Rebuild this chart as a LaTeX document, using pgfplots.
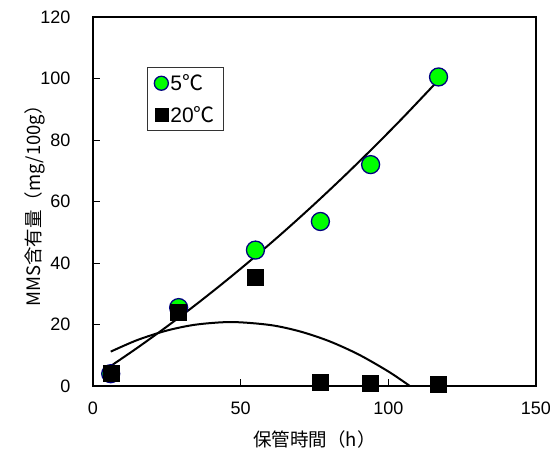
\documentclass[border=0pt]{standalone}
\usepackage{pgfplots}
\pgfplotsset{compat=1.18}
\usepackage{fontspec}
\setmainfont{Liberation Sans}
\newfontfamily\jp{Noto Sans CJK JP}
\definecolor{mgreen}{RGB}{0,255,0}
\definecolor{mnavy}{RGB}{0,0,128}
\begin{document}
\begin{tikzpicture}[x=1pt,y=1pt]
\path[use as bounding box] (0,0) rectangle (550,458);
\begin{axis}[
  at={(93pt,72pt)}, anchor=south west,
  scale only axis, width=443pt, height=369pt,
  xmin=0,xmax=150,ymin=0,ymax=120,
  xtick={0,50,100,150}, ytick={0,20,...,120},
  tick align=inside, xtick pos=bottom, ytick pos=left,
  major tick length=7pt,
  axis line style={line width=2pt},
  tick style={line width=0.8pt, black},
  tick label style={font=\fontsize{18}{20}\selectfont},
  /pgf/number format/assume math mode=true,
  xticklabel style={yshift=-12pt},
  yticklabel style={xshift=-19pt},
  xlabel={\jp 保管時間（h）}, ylabel={\jp MMS含有量（mg/100g）},
  label style={font=\fontsize{18.5}{20}\selectfont},
  x label style={at={(axis description cs:0.5,-0.146)}, anchor=center},
  y label style={at={(axis description cs:-0.131,0.5)}, anchor=center},
  clip=false,
  legend style={at={(0.122,0.864)}, anchor=north west, draw=black!80, line width=0.6pt,
    font=\fontsize{21}{22}\selectfont, row sep=10pt, inner xsep=7pt, inner ysep=5pt},
  legend cell align=left,
]
% 5 C trend
\addplot[black, line width=2pt, smooth, forget plot] coordinates {
(6,6.50) (15,12.41) (25,19.32) (35,26.58) (45,34.20) (55,42.17) (65,50.49)
(75,59.17) (85,68.20) (95,77.59) (105,87.33) (117,99.49)};
% 20 C trend
\addplot[black, line width=2pt, smooth, forget plot] coordinates {
(6,11.18) (15,14.94) (25,18.03) (35,19.98) (47,20.8) (60,19.83) (70,17.77)
(80,14.57) (90,10.22) (100,4.73) (107.3,0)};
\addplot[only marks, mark=*, mark size=9pt, mark options={fill=mgreen, draw=mnavy, line width=1.3pt},
  legend image post style={mark size=7pt}]
coordinates {(6,4) (29,25.5) (55,44.2) (77,53.5) (94,72) (117,100.5)};
\addlegendentry{5{\jp ℃}}
\addplot[only marks, mark=square*, mark size=8pt, mark options={fill=black, draw=black},
  legend image post style={mark size=6.5pt}]
coordinates {(6,4) (29,24) (55,35.3) (77,1.2) (94,1) (117,0.6)};
\addlegendentry{20{\jp ℃}}
\end{axis}
\end{tikzpicture}
\end{document}
